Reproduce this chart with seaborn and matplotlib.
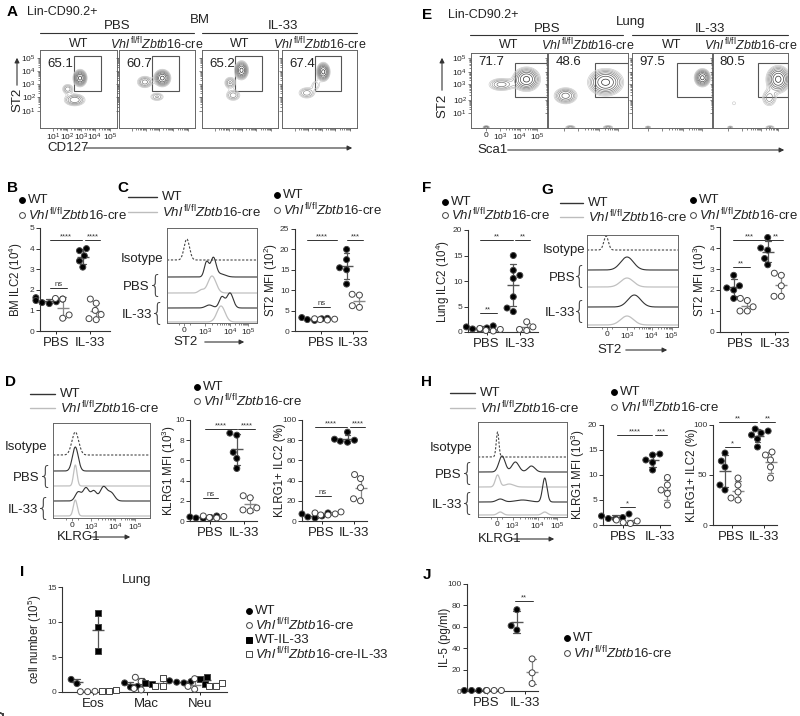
import numpy as np
import pandas as pd
import matplotlib
matplotlib.use("Agg")
import matplotlib.pyplot as plt
import seaborn as sns
from matplotlib.lines import Line2D
from matplotlib.patches import Rectangle, FancyArrowPatch

sns.set_theme(style="ticks")
plt.rcParams["font.family"] = ["Liberation Sans", "DejaVu Sans"]
plt.rcParams["mathtext.fontset"] = "custom"
plt.rcParams["mathtext.rm"] = "Liberation Sans"
plt.rcParams["mathtext.it"] = "Liberation Sans:italic"
plt.rcParams["mathtext.bf"] = "Liberation Sans:bold"
plt.rcParams["text.color"] = "#222222"

W, H = 800, 716
KO = r"$\mathit{Vhl}^{\,\mathrm{fl/fl}}\mathit{Zbtb16}$-cre"

# ---------------- data ----------------
treatments = ["PBS", "IL-33"]
genotypes = ["WT", "KO"]

# B  BM ILC2 (10^4)
b_wt_pbs = [1.62, 1.55, 1.48, 1.42, 1.38, 1.33]
b_ko_pbs = [1.58, 1.55, 0.78, 0.62]
b_wt_il33 = [4.0, 3.9, 3.65, 3.4, 3.1]
b_ko_il33 = [1.55, 1.35, 1.0, 0.8, 0.6, 0.55]

# C  ST2 MFI (10^2), BM
c_wt_pbs = [3.3, 3.0, 2.8, 2.6, 3.1]
c_ko_pbs = [2.9, 2.8, 2.7, 3.0]
c_wt_il33 = [20, 17.5, 15.5, 15, 11.5]
c_ko_il33 = [9, 8.8, 6.2, 5.8]

# D  KLRG1 MFI (10^3) and KLRG1+ ILC2 (%), BM
d_mfi_wt_pbs = [0.5, 0.4, 0.35, 0.3, 0.25]
d_mfi_ko_pbs = [0.5, 0.45, 0.35, 0.3]
d_mfi_wt_il33 = [8.7, 8.5, 6.8, 6.2, 5.2]
d_mfi_ko_il33 = [2.5, 2.3, 1.3, 1.1, 1.0]
d_pct_wt_pbs = [8, 7, 5, 4, 3]
d_pct_ko_pbs = [9, 8, 7, 6, 6]
d_pct_wt_il33 = [88, 81, 80, 79, 78]
d_pct_ko_il33 = [46, 42, 33, 22, 20]

# F  Lung ILC2 (10^4)
f_wt_pbs = [1.2, 1.0, 0.8, 0.6, 0.5]
f_ko_pbs = [0.7, 0.5, 0.3, 0.2]
f_wt_il33 = [15, 12.1, 11.1, 10.5, 6.9, 4.7, 4.0]
f_ko_il33 = [2.0, 1.0, 0.5, 0.3]

# G  ST2 MFI (10^3), lung
g_wt_pbs = [2.7, 2.2, 2.1, 2.0, 1.6]
g_ko_pbs = [1.6, 1.5, 1.2, 1.0, 1.0]
g_wt_il33 = [4.5, 4.0, 3.9, 3.5, 3.2]
g_ko_il33 = [2.8, 2.7, 2.2, 1.7, 1.7]

# H  KLRG1 MFI (10^3) and KLRG1+ ILC2 (%), lung
h_mfi_wt_pbs = [2.2, 1.8, 1.5, 1.3, 1.2]
h_mfi_ko_pbs = [1.0, 0.8, 0.5, 0.3]
h_mfi_wt_il33 = [14.2, 14.0, 13.0, 12.5, 11.0]
h_mfi_ko_il33 = [9.5, 8.0, 7.0, 6.3, 4.0]
h_pct_wt_pbs = [72, 64, 58, 40, 35]
h_pct_ko_pbs = [47, 40, 33, 27, 25]
h_pct_wt_il33 = [96, 94, 92, 90, 86, 78]
h_pct_ko_il33 = [73, 70, 65, 58, 47]

# I  lung cell number (10^5)
cell_types = ["Eos", "Mac", "Neu"]
i_groups = ["WT", "KO", "WT-IL-33", "KO-IL-33"]
i_wt = {"Eos": [1.8, 1.2], "Mac": [1.5, 1.3, 0.8, 0.7], "Neu": [1.6, 1.5, 1.4, 1.3]}
i_ko = {"Eos": [0.05, 0.05, 0.1], "Mac": [2.1, 1.5, 0.5, 0.3], "Neu": [1.9, 0.8, 0.4]}
i_wt_il33 = {"Eos": [11.3, 9.3, 5.8], "Mac": [1.3, 1.1], "Neu": [2.1, 1.8, 1.1]}
i_ko_il33 = {"Eos": [0.3, 0.2, 0.1], "Mac": [2.0, 0.9, 0.8], "Neu": [1.3, 0.9, 0.8]}

# J  IL-5 (pg/ml)
j_wt_pbs = [0.5, 0.5, 0.5, 0.5]
j_ko_pbs = [0.5, 0.5, 0.5]
j_wt_il33 = [76, 61, 57]
j_ko_il33 = [30, 17, 7]

# flow populations (x, y, sx, sy, weight) in axis fractions
bm_pops = [
    [(0.52, 0.64, 0.045, 0.055, 1.0), (0.45, 0.36, 0.08, 0.045, 0.5), (0.36, 0.50, 0.045, 0.04, 0.35)],
    [(0.57, 0.64, 0.055, 0.055, 1.0), (0.34, 0.59, 0.06, 0.045, 0.45), (0.50, 0.40, 0.06, 0.035, 0.3)],
    [(0.52, 0.74, 0.045, 0.06, 1.0), (0.37, 0.58, 0.045, 0.045, 0.4), (0.41, 0.42, 0.06, 0.045, 0.35)],
    [(0.55, 0.72, 0.045, 0.06, 1.0), (0.33, 0.45, 0.07, 0.045, 0.35), (0.45, 0.55, 0.045, 0.045, 0.2)],
]
bm_pct = ["65.1", "60.7", "65.2", "67.4"]
lung_pops = [
    [(0.73, 0.65, 0.09, 0.08, 1.0), (0.40, 0.58, 0.1, 0.05, 0.45), (0.2, 0.01, 0.025, 0.012, 0.5)],
    [(0.72, 0.61, 0.11, 0.09, 1.0), (0.22, 0.43, 0.08, 0.06, 0.6), (0.28, 0.01, 0.04, 0.015, 0.35),
     (0.75, 0.01, 0.04, 0.015, 0.35)],
    [(0.88, 0.67, 0.05, 0.06, 1.0), (0.2, 0.01, 0.025, 0.012, 0.3)],
    [(0.87, 0.65, 0.08, 0.09, 1.0), (0.75, 0.40, 0.06, 0.07, 0.35), (0.28, 0.33, 0.03, 0.03, 0.15),
     (0.23, 0.01, 0.025, 0.012, 0.3), (0.76, 0.01, 0.04, 0.015, 0.3)],
]
lung_pct = ["71.7", "48.6", "97.5", "80.5"]

# histogram traces: (baseline, [(center, width, height)], kind)
c_hist = [(63, [(0.22, 0.03, 21)], "iso"),
          (46, [(0.44, 0.025, 15), (0.515, 0.03, 19), (0.6, 0.05, 3)], "wt"),
          (30, [(0.5, 0.045, 17), (0.38, 0.03, 3)], "ko"),
          (15, [(0.47, 0.04, 3), (0.61, 0.03, 11), (0.70, 0.035, 15)], "wt"),
          (1, [(0.6, 0.045, 16)], "ko")]
d_hist = [(63, [(0.23, 0.035, 23)], "iso"),
          (47, [(0.23, 0.03, 24)], "wt"),
          (32, [(0.23, 0.018, 21)], "ko"),
          (17, [(0.26, 0.03, 9), (0.34, 0.03, 13), (0.42, 0.03, 10), (0.52, 0.035, 14), (0.6, 0.035, 8)], "wt"),
          (2, [(0.23, 0.02, 16)], "ko")]
g_hist = [(77, [(0.21, 0.025, 14)], "iso"),
          (57, [(0.44, 0.07, 13)], "wt"),
          (40, [(0.44, 0.07, 9)], "ko"),
          (20, [(0.52, 0.07, 12)], "wt"),
          (2, [(0.44, 0.07, 9)], "ko")]
h_hist = [(60, [(0.22, 0.015, 25)], "iso"),
          (45, [(0.27, 0.035, 16), (0.42, 0.04, 10), (0.6, 0.04, 6)], "wt"),
          (30, [(0.22, 0.025, 12), (0.35, 0.05, 3)], "ko"),
          (15, [(0.25, 0.04, 3), (0.5, 0.08, 2), (0.75, 0.025, 24)], "wt"),
          (2, [(0.25, 0.03, 3), (0.75, 0.03, 3)], "ko")]

fig = plt.figure(figsize=(8, 7.16), dpi=100)


def add_ax(x0, y0, x1, y1):
    return fig.add_axes([x0 / W, 1 - y1 / H, (x1 - x0) / W, (y1 - y0) / H])


def txt(x, y, s, size=9, ha="center", va="center", **kw):
    fig.text(x / W, 1 - y / H, s, fontsize=size, ha=ha, va=va, **kw)


def hline(x0, x1, y, lw=0.8, color="#333333"):
    fig.add_artist(Line2D([x0 / W, x1 / W], [1 - y / H, 1 - y / H], lw=lw, color=color))


def arrow(x0, y0, x1, y1):
    fig.add_artist(FancyArrowPatch((x0 / W, 1 - y0 / H), (x1 / W, 1 - y1 / H),
                                   transform=fig.transFigure, arrowstyle="-|>",
                                   mutation_scale=7, lw=0.8, color="#333333"))


def dot_legend(x, y, items, size=9.5, gap=15):
    for k, (marker, face, label) in enumerate(items):
        yy = y + k * gap
        fig.add_artist(Line2D([x / W], [1 - yy / H], marker=marker, ls="", ms=4.2,
                              mfc=face, mec="#444444" if face == "white" else "black", mew=0.7))
        txt(x + 6, yy, label, size=size, ha="left")


def line_legend(x0, x1, y, gap=15):
    hline(x0, x1, y, lw=1.0, color="#333333")
    hline(x0, x1, y + gap, lw=1.0, color="#bdbdbd")
    txt(x1 + 5, y, "WT", size=9.5, ha="left")
    txt(x1 + 5, y + gap, KO, size=9.5, ha="left")


def long_df(groups, xname="trt"):
    rows = []
    for (x, g), vals in groups.items():
        for v in vals:
            rows.append({xname: x, "geno": g, "val": v})
    return pd.DataFrame(rows)


def sig(ax, x0, x1, y, s):
    ax.plot([x0, x1], [y, y], color="#333333", lw=0.7, clip_on=False)
    ax.text((x0 + x1) / 2, y, s, ha="center", va="bottom", fontsize=5.5, color="#333333")


def style_dot(ax, box, c0, sp, ylim, yticks, ylabel, label_x):
    x0, y0, x1, y1 = box
    ax.set_xlim((x0 - c0) / sp, (x1 - c0) / sp)
    ax.set_ylim(*ylim)
    ax.set_yticks(yticks)
    ax.set_xlabel("")
    ax.set_ylabel("")
    sns.despine(ax=ax)
    for s in ["left", "bottom"]:
        ax.spines[s].set_linewidth(0.8)
        ax.spines[s].set_color("#333333")
    ax.tick_params(axis="y", labelsize=6, length=3, width=0.7, pad=1, colors="#333333")
    ax.tick_params(axis="x", labelsize=9.5, length=2.5, width=0.7, pad=2, colors="#222222")
    txt(label_x - 2, (y0 + y1) / 2, ylabel, size=8.3, rotation=90)


def dot_panel(box, c0, sp, vals, ylim, yticks, ylabel, label_x, sigs):
    ax = add_ax(*box)
    groups = {("PBS", "WT"): vals[0], ("PBS", "KO"): vals[1],
              ("IL-33", "WT"): vals[2], ("IL-33", "KO"): vals[3]}
    df = long_df(groups)
    sns.pointplot(data=df, x="trt", y="val", hue="geno", order=treatments, hue_order=genotypes,
                  dodge=0.4, errorbar="sd", markers="_", linestyle="none", capsize=0.18,
                  palette={"WT": "#555555", "KO": "#888888"}, markersize=9, markeredgewidth=1.0,
                  err_kws={"linewidth": 0.9}, legend=False, ax=ax)
    sns.swarmplot(data=df, x="trt", y="val", hue="geno", order=treatments, hue_order=genotypes,
                  dodge=True, palette={"WT": "black", "KO": "white"}, size=4.3, linewidth=0.7,
                  edgecolor="#444444", legend=False, clip_on=False, ax=ax)
    style_dot(ax, box, c0, sp, ylim, yticks, ylabel, label_x)
    for s in sigs:
        sig(ax, *s)
    return ax


def minor_positions(major):
    out = []
    for a, b in zip(major[:-1], major[1:]):
        out += [a + (b - a) * np.log10(k) for k in range(2, 10)]
    return out


def flow_panel(box, pops, gate, pct, pct_xy, xt, xtl, yt, ytl, show):
    ax = add_ax(*box)
    g = np.linspace(0, 1, 240)
    X, Y = np.meshgrid(g, g)
    Z = np.zeros_like(X)
    for cx, cy, sx, sy, w in pops:
        Z += w * np.exp(-0.5 * (((X - cx) / sx) ** 2 + ((Y - cy) / sy) ** 2))
    lv = Z.max() * np.geomspace(0.12, 0.9, 8)
    ax.contour(X, Y, Z, levels=lv, colors=plt.cm.Greys(np.linspace(0.3, 0.85, 8)), linewidths=0.5)
    ax.add_patch(Rectangle((gate[0], gate[1]), gate[2] - gate[0], gate[3] - gate[1],
                           fill=False, ec="#555555", lw=0.8))
    ax.text(pct_xy[0], pct_xy[1], pct, transform=ax.transAxes, fontsize=9.5, ha="left", va="center")
    ax.set_xlim(0, 1)
    ax.set_ylim(0, 1)
    ax.set_xticks(xt)
    ax.set_yticks(yt)
    ax.set_xticks(minor_positions(xt), minor=True)
    ax.set_yticks(minor_positions(yt), minor=True)
    ax.set_xticklabels(xtl if show else [])
    ax.set_yticklabels(ytl if show else [])
    ax.tick_params(which="both", direction="out", length=2, width=0.5, colors="#555555",
                   labelsize=6, labelcolor="#222222", pad=1)
    ax.tick_params(which="minor", length=1.2)
    for s in ax.spines.values():
        s.set_linewidth(0.7)
        s.set_color("#666666")
    return ax


TRACE = {"iso": dict(color="#444444", lw=0.8, ls=(0, (2, 1.5))),
         "wt": dict(color="#333333", lw=0.8),
         "ko": dict(color="#c0c0c0", lw=0.9)}


def hist_panel(box, traces, xt):
    ax = add_ax(*box)
    xs = np.linspace(0, 1, 400)
    for base, peaks, kind in traces:
        y = np.full_like(xs, float(base))
        for c, s, h in peaks:
            y += h * np.exp(-0.5 * ((xs - c) / s) ** 2)
        ax.plot(xs, y, **TRACE[kind])
    ax.set_xlim(0, 1)
    ax.set_ylim(0, box[3] - box[1])
    ax.set_yticks([])
    ax.set_xticks(xt)
    ax.set_xticks(minor_positions(xt[1:]) + [xt[0] - 0.06, xt[0] + 0.06], minor=True)
    ax.set_xticklabels(["0", r"10$^{3}$", r"10$^{4}$", r"10$^{5}$"])
    ax.tick_params(which="both", direction="out", length=2, width=0.5, colors="#555555",
                   labelsize=6, labelcolor="#222222", pad=1)
    ax.tick_params(which="minor", length=1.2)
    for s in ax.spines.values():
        s.set_linewidth(0.7)
        s.set_color("#666666")
    return ax


def hist_labels(iso_xy, pbs_xy, il_xy, brace_dx=5):
    txt(iso_xy[0], iso_xy[1], "Isotype", size=9.5, ha="right")
    txt(pbs_xy[0], pbs_xy[1], "PBS", size=9.5, ha="right")
    txt(il_xy[0], il_xy[1], "IL-33", size=9.5, ha="right")
    for x, y in [pbs_xy, il_xy]:
        txt(x + brace_dx, y - 1, "{", size=17, ha="center", family=["DejaVu Sans"],
            fontweight="light", color="#444444")


def letter(x, y, s):
    txt(x, y, s, size=11, fontweight="bold", color="black")


# ---------------- A: BM flow ----------------
letter(12, 12, "A")
txt(27, 12, "Lin-CD90.2+", size=9, ha="left")
txt(200, 20, "BM", size=9.5)
txt(117, 26, "PBS", size=9.5)
hline(40, 194, 33)
txt(283, 26, "IL-33", size=9.5)
hline(202, 357, 33)
a_boxes = [(40, 50, 117, 128), (119, 50, 195, 128), (202, 50, 278, 128), (282, 50, 357, 128)]
a_cols = ["WT", KO, "WT", KO]
a_xt = [0.17, 0.35, 0.53, 0.71, 0.91]
a_yt = [0.22, 0.40, 0.56, 0.73, 0.90]
dec = [r"10$^{1}$", r"10$^{2}$", r"10$^{3}$", r"10$^{4}$", r"10$^{5}$"]
for k, bx in enumerate(a_boxes):
    flow_panel(bx, bm_pops[k], (0.44, 0.47, 0.79, 0.92), bm_pct[k], (0.1, 0.82),
               a_xt, dec, a_yt, dec, k == 0)
    txt((bx[0] + bx[2]) / 2, 44, a_cols[k], size=9)
txt(17, 100, "ST2", size=9.5, rotation=90)
arrow(17, 88, 17, 55)
txt(47, 148, "CD127", size=9.5, ha="left")
arrow(83, 148, 355, 148)

# ---------------- E: lung flow ----------------
letter(427, 15, "E")
txt(448, 15, "Lin-CD90.2+", size=9, ha="left")
txt(631, 22, "Lung", size=9.5)
txt(547, 29, "PBS", size=9.5)
hline(470, 623, 35)
txt(710, 29, "IL-33", size=9.5)
hline(632, 788, 35)
e_boxes = [(471, 53, 547, 128), (548, 53, 628, 128), (632, 53, 712, 128), (713, 53, 788, 128)]
e_gates = [(0.58, 0.41, 1.0, 0.87), (0.59, 0.41, 1.0, 0.87), (0.56, 0.41, 1.0, 0.87), (0.6, 0.41, 1.0, 0.87)]
e_xt = [0.2, 0.38, 0.64, 0.87]
e_yt = [0.2, 0.37, 0.59, 0.75, 0.93]
for k, bx in enumerate(e_boxes):
    ax = flow_panel(bx, lung_pops[k], e_gates[k], lung_pct[k], (0.09, 0.88),
                    e_yt, dec, e_yt, dec, k == 0)
    ax.set_xticks(e_xt)
    ax.set_xticks(minor_positions(e_xt[1:]), minor=True)
    ax.set_xticklabels(["0", r"10$^{3}$", r"10$^{4}$", r"10$^{5}$"] if k == 0 else [])
    txt((bx[0] + bx[2]) / 2, 45, a_cols[k], size=9)
txt(442, 106, "ST2", size=9.5, rotation=90)
arrow(442, 93, 442, 55)
txt(477, 150, "Sca1", size=9.5, ha="left")
arrow(505, 150, 787, 150)

# ---------------- B ----------------
letter(12, 188, "B")
dot_legend(22, 200, [("o", "black", "WT"), ("o", "white", KO)])
dot_panel((40, 228, 110, 331), 56, 33.5, [b_wt_pbs, b_ko_pbs, b_wt_il33, b_ko_il33],
          (0, 5), range(0, 6), r"BM ILC2 (10$^{4}$)", 18,
          [(-0.18, 0.78, 4.42, "****"), (0.87, 1.31, 4.42, "****"), (-0.18, 0.33, 2.1, "ns")])

# ---------------- C ----------------
letter(123, 188, "C")
line_legend(128, 157, 197)
hist_panel((167, 228, 257, 323), c_hist, [0.19, 0.42, 0.70, 0.90])
hist_labels((163, 259), (150, 287), (152, 315))
txt(173, 342, "ST2", size=9.5, ha="left")
arrow(202, 342, 247, 342)
dot_legend(277, 195, [("o", "black", "WT"), ("o", "white", KO)])
dot_panel((295, 229, 367, 331), 321, 32, [c_wt_pbs, c_ko_pbs, c_wt_il33, c_ko_il33],
          (0, 25), range(0, 26, 5), r"ST2 MFI (10$^{2}$)", 273,
          [(-0.45, 0.5, 22.3, "****"), (0.81, 1.31, 22.3, "***"), (-0.25, 0.28, 5.9, "ns")])

# ---------------- D ----------------
letter(10, 382, "D")
line_legend(30, 55, 394, gap=14)
hist_panel((53, 423, 150, 518), d_hist, [0.196, 0.39, 0.64, 0.845])
hist_labels((47, 447), (40, 478), (38, 510))
txt(57, 537, "KLRG1", size=9.5, ha="left")
arrow(88, 537, 133, 537)
dot_legend(197, 387, [("o", "black", "WT"), ("o", "white", KO)], gap=14)
dot_panel((190, 420, 257, 521), 210, 33.5, [d_mfi_wt_pbs, d_mfi_ko_pbs, d_mfi_wt_il33, d_mfi_ko_il33],
          (0, 10), range(0, 11, 2), r"KLRG1 MFI (10$^{3}$)", 171,
          [(-0.15, 0.8, 9.1, "****"), (0.84, 1.34, 9.1, "****"), (-0.2, 0.25, 2.3, "ns")])
dot_panel((302, 420, 367, 521), 321.5, 32.5, [d_pct_wt_pbs, d_pct_ko_pbs, d_pct_wt_il33, d_pct_ko_il33],
          (0, 100), range(0, 101, 20), "KLRG1+ ILC2 (%)", 282,
          [(-0.2, 0.78, 93, "****"), (0.88, 1.34, 93, "****"), (-0.2, 0.28, 25, "ns")])

# ---------------- F ----------------
letter(427, 188, "F")
dot_legend(445, 202, [("o", "black", "WT"), ("o", "white", KO)], gap=13)
dot_panel((468, 230, 538, 332), 486.5, 33.5, [f_wt_pbs, f_ko_pbs, f_wt_il33, f_ko_il33],
          (0, 20), range(0, 21, 5), r"Lung ILC2 (10$^{4}$)", 445,
          [(-0.2, 0.8, 18, "**"), (0.85, 1.3, 18, "**"), (-0.2, 0.3, 3.7, "**")])

# ---------------- G ----------------
letter(547, 190, "G")
line_legend(560, 583, 203, gap=14)
hist_panel((587, 235, 678, 327), g_hist, [0.22, 0.44, 0.71, 0.93])
hist_labels((585, 250), (575, 278), (575, 313))
txt(597, 350, "ST2", size=9.5, ha="left")
arrow(623, 350, 670, 350)
dot_legend(693, 200, [("o", "black", "WT"), ("o", "white", KO)])
dot_panel((720, 227, 788, 332), 740.5, 34, [g_wt_pbs, g_ko_pbs, g_wt_il33, g_ko_il33],
          (0, 5), range(0, 6), r"ST2 MFI (10$^{3}$)", 702,
          [(-0.22, 0.72, 4.38, "***"), (0.81, 1.25, 4.38, "**"), (-0.22, 0.27, 3.1, "**")])

# ---------------- H ----------------
letter(427, 382, "H")
line_legend(450, 475, 393)
hist_panel((478, 422, 567, 517), h_hist, [0.21, 0.39, 0.67, 0.89])
hist_labels((472, 448), (462, 475), (462, 505))
txt(478, 539, "KLRG1", size=9.5, ha="left")
arrow(509, 539, 557, 539)
dot_legend(614, 392, [("o", "black", "WT"), ("o", "white", KO)])
dot_panel((603, 425, 670, 525), 623, 37, [h_mfi_wt_pbs, h_mfi_ko_pbs, h_mfi_wt_il33, h_mfi_ko_il33],
          (0, 20), range(0, 21, 5), r"KLRG1 MFI (10$^{3}$)", 580,
          [(-0.15, 0.78, 18, "****"), (0.86, 1.19, 18, "***"), (-0.08, 0.32, 3.6, "*")])
dot_panel((713, 425, 777, 525), 731.5, 32.5, [h_pct_wt_pbs, h_pct_ko_pbs, h_pct_wt_il33, h_pct_ko_il33],
          (0, 100), [0, 50, 100], "KLRG1+ ILC2 (%)", 694,
          [(-0.4, 0.78, 103, "**"), (0.88, 1.34, 103, "**"), (-0.2, 0.26, 78, "*")])

# ---------------- I ----------------
letter(22, 572, "I")
txt(137, 580, "Lung", size=9.5)
i_box = (62, 587, 227, 692)
ax = add_ax(*i_box)
i_df = long_df({**{(c, "WT"): i_wt[c] for c in cell_types},
                **{(c, "KO"): i_ko[c] for c in cell_types},
                **{(c, "WT-IL-33"): i_wt_il33[c] for c in cell_types},
                **{(c, "KO-IL-33"): i_ko_il33[c] for c in cell_types}}, xname="cell")
i_pal = {"WT": "black", "KO": "white", "WT-IL-33": "black", "KO-IL-33": "white"}
sns.pointplot(data=i_df, x="cell", y="val", hue="geno", order=cell_types, hue_order=i_groups,
              dodge=0.6, errorbar="sd", markers="_", linestyle="none", capsize=0.1,
              palette={"WT": "#555555", "KO": "#888888", "WT-IL-33": "#555555", "KO-IL-33": "#888888"},
              markersize=9, markeredgewidth=1.0, err_kws={"linewidth": 0.9}, legend=False, ax=ax)
for grp, mk in [(["WT", "KO"], "o"), (["WT-IL-33", "KO-IL-33"], "s")]:
    sns.swarmplot(data=i_df[i_df["geno"].isin(grp)], x="cell", y="val", hue="geno", order=cell_types,
                  hue_order=i_groups, dodge=True, palette=i_pal, size=4.3, linewidth=0.7,
                  edgecolor="#444444", marker=mk, legend=False, clip_on=False, ax=ax)
style_dot(ax, i_box, 93, 53.5, (0, 15), [0, 5, 10, 15], r"cell number (10$^{5}$)", 37)
dot_legend(249, 611, [("o", "black", "WT"), ("o", "white", KO), ("s", "black", "WT-IL-33"),
                      ("s", "white", KO + "-IL-33")], gap=14.3)

# ---------------- J ----------------
letter(427, 575, "J")
dot_panel((467, 584, 538, 691), 486.5, 38, [j_wt_pbs, j_ko_pbs, j_wt_il33, j_ko_il33],
          (0, 100), range(0, 101, 20), "IL-5 (pg/ml)", 447,
          [(0.75, 1.22, 84, "**")])
dot_legend(567, 638, [("o", "black", "WT"), ("o", "white", KO)])

fig.savefig("out.png", dpi=100, facecolor="white")
